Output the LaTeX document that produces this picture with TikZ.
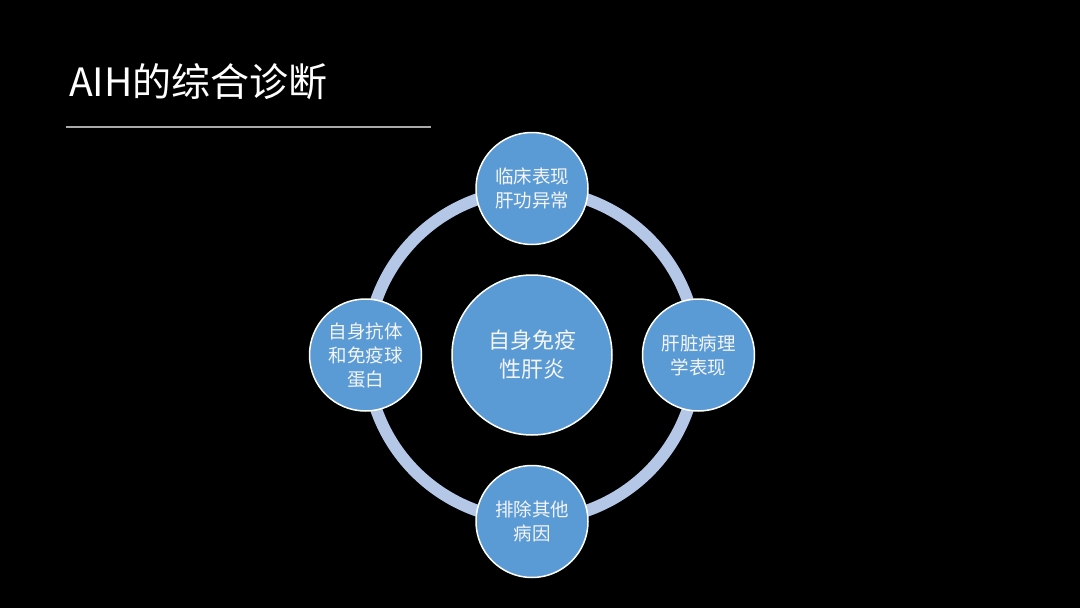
\documentclass[tikz,border=0pt]{standalone}
\usepackage{fontspec}
\usepackage{xcolor}
\usepackage{tikz}
\usetikzlibrary{positioning}
\newfontfamily\cjk{Noto Sans CJK SC}
\definecolor{mybg}{RGB}{0,0,0}
\definecolor{myblue}{RGB}{91,155,213}
\definecolor{myring}{RGB}{180,199,231}
\definecolor{myrule}{RGB}{170,170,170}
\definecolor{mytext}{RGB}{245,245,245}
\tikzset{
  hub/.style={circle, draw=white, fill=myblue, line width=1.5pt,
    minimum size=160pt, inner sep=0pt, align=center,
    font=\fontsize{22}{29}\selectfont\cjk, text=mytext},
  spoke/.style={circle, draw=white, fill=myblue, line width=1.5pt,
    minimum size=112pt, inner sep=0pt, align=center,
    font=\fontsize{18.5}{24}\selectfont\cjk, text=mytext},
  ring/.style={draw=myring, line width=12pt},
  title/.style={anchor=west, text=white, inner sep=0pt,
    font=\fontsize{39}{44}\selectfont\cjk},
  rule/.style={draw=myrule, line width=1.2pt}
}

\begin{document}
\begin{tikzpicture}[x=1pt, y=-1pt, node distance=29pt]
  \fill[mybg] (0,0) rectangle (1080,608);
  \useasboundingbox (0,0) rectangle (1080,608);

  % title and rule
  \node[title] (head) at (69,82) {AIH的综合诊断};
  \coordinate (ruleL) at (66,127);
  \coordinate (ruleR) at (431,127);
  \draw[rule] (ruleL) -- (ruleR);

  % centre and ring
  \node[hub] (diag) at (532,355) {自身免疫\\性肝炎};
  \draw[ring] (diag.center) circle[radius=165];

  % the four criteria
  \node[spoke, above=of diag] (clin) {临床表现\\肝功异常};
  \node[spoke, right=of diag] (path) {肝脏病理\\学表现};
  \node[spoke, below=of diag] (excl) {排除其他\\病因};
  \node[spoke, left=of diag] (anti) {自身抗体\\和免疫球\\蛋白};
\end{tikzpicture}
\end{document}
